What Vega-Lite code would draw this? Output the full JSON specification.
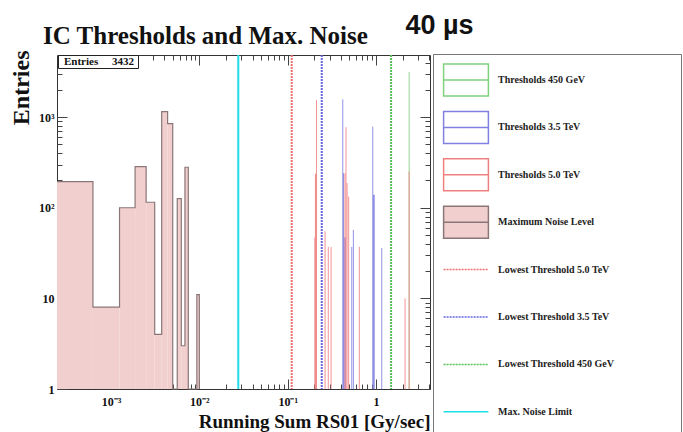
{
  "$schema": "https://vega.github.io/schema/vega-lite/v6.json",
  "width": 373,
  "height": 334,
  "autosize": {"type": "none"},
  "padding": {"left": 57, "top": 55, "right": 253, "bottom": 43},
  "background": "white",
  "title": {"text": "IC Thresholds and Max. Noise", "anchor": "start", "frame": "group", "dx": -14, "offset": -58, "baseline": "alphabetic", "font": "Liberation Serif", "fontSize": 25, "fontWeight": "bold", "color": "#111"},
  "config": {
    "view": {"stroke": "#333", "strokeWidth": 1},
    "axis": {"grid": false, "domain": false, "tickColor": "#444", "tickWidth": 1, "labelColor": "#111", "labelFont": "Liberation Serif", "labelFontWeight": "bold", "labelFontSize": 12, "titleColor": "#111"}
  },
  "datasets": {
    "hist": [
      {"series": "Maximum Noise Level", "lo": 0, "hi": 0.000625, "count": 194},
      {"series": "Maximum Noise Level", "lo": 0.000625, "hi": 0.00125, "count": 8},
      {"series": "Maximum Noise Level", "lo": 0.00125, "hi": 0.001875, "count": 100},
      {"series": "Maximum Noise Level", "lo": 0.001875, "hi": 0.0025, "count": 284},
      {"series": "Maximum Noise Level", "lo": 0.0025, "hi": 0.003125, "count": 115},
      {"series": "Maximum Noise Level", "lo": 0.003125, "hi": 0.00375, "count": 4},
      {"series": "Maximum Noise Level", "lo": 0.00375, "hi": 0.004375, "count": 1150},
      {"series": "Maximum Noise Level", "lo": 0.004375, "hi": 0.005, "count": 850},
      {"series": "Maximum Noise Level", "lo": 0.005, "hi": 0.005625, "count": 0},
      {"series": "Maximum Noise Level", "lo": 0.005625, "hi": 0.00625, "count": 126},
      {"series": "Maximum Noise Level", "lo": 0.00625, "hi": 0.006875, "count": 3},
      {"series": "Maximum Noise Level", "lo": 0.006875, "hi": 0.0075, "count": 280},
      {"series": "Maximum Noise Level", "lo": 0.0075, "hi": 0.008125, "count": 0},
      {"series": "Maximum Noise Level", "lo": 0.008125, "hi": 0.00875, "count": 0},
      {"series": "Maximum Noise Level", "lo": 0.00875, "hi": 0.009375, "count": 0},
      {"series": "Maximum Noise Level", "lo": 0.009375, "hi": 0.01, "count": 11},
      {"series": "Maximum Noise Level", "lo": 0.01, "hi": 0.010625, "count": 0}
    ],
    "thr": [
      {"series": "Thresholds 450 GeV", "x": 2.37, "count": 3150},
      {"series": "Thresholds 3.5 TeV", "x": 0.42, "count": 1575},
      {"series": "Thresholds 3.5 TeV", "x": 0.428, "count": 241},
      {"series": "Thresholds 3.5 TeV", "x": 0.437, "count": 47},
      {"series": "Thresholds 3.5 TeV", "x": 0.452, "count": 47},
      {"series": "Thresholds 3.5 TeV", "x": 0.531, "count": 37},
      {"series": "Thresholds 3.5 TeV", "x": 0.554, "count": 57},
      {"series": "Thresholds 3.5 TeV", "x": 0.918, "count": 785},
      {"series": "Thresholds 3.5 TeV", "x": 0.935, "count": 139},
      {"series": "Thresholds 3.5 TeV", "x": 0.955, "count": 139},
      {"series": "Thresholds 3.5 TeV", "x": 1.16, "count": 36},
      {"series": "Thresholds 5.0 TeV", "x": 0.203, "count": 47},
      {"series": "Thresholds 5.0 TeV", "x": 0.206, "count": 237},
      {"series": "Thresholds 5.0 TeV", "x": 0.209, "count": 237},
      {"series": "Thresholds 5.0 TeV", "x": 0.212, "count": 1550},
      {"series": "Thresholds 5.0 TeV", "x": 0.265, "count": 55},
      {"series": "Thresholds 5.0 TeV", "x": 0.288, "count": 37},
      {"series": "Thresholds 5.0 TeV", "x": 0.31, "count": 37},
      {"series": "Thresholds 5.0 TeV", "x": 0.445, "count": 241},
      {"series": "Thresholds 5.0 TeV", "x": 0.457, "count": 774},
      {"series": "Thresholds 5.0 TeV", "x": 0.47, "count": 187},
      {"series": "Thresholds 5.0 TeV", "x": 0.49, "count": 133},
      {"series": "Thresholds 5.0 TeV", "x": 0.647, "count": 37},
      {"series": "Thresholds 5.0 TeV", "x": 2.13, "count": 10},
      {"series": "Thresholds 5.0 TeV", "x": 2.37, "count": 251}
    ],
    "lines": [
      {"series": "Lowest Threshold 5.0 TeV", "x": 0.111},
      {"series": "Lowest Threshold 3.5 TeV", "x": 0.243},
      {"series": "Lowest Threshold 450 GeV", "x": 1.48},
      {"series": "Max. Noise Limit", "x": 0.0276}
    ]
  },
  "resolve": {"axis": {"x": "independent", "y": "independent"}},
  "layer": [
    {
      "data": {"name": "hist"},
      "mark": {"type": "rect", "invalid": null},
      "encoding": {
        "x": {"field": "lo", "type": "quantitative",
          "scale": {"type": "log", "domain": [0.000245, 4.08], "nice": false, "clamp": true},
          "axis": {"orient": "bottom", "values": [0.001, 0.01, 0.1, 1], "tickSize": -10, "labelPadding": 17, "labelFontSize": 12,
            "labelExpr": "datum.value < 0.005 ? '10⁻³' : datum.value < 0.05 ? '10⁻²' : datum.value < 0.5 ? '10⁻¹' : '1'",
            "title": "Running Sum RS01 [Gy/sec]", "titleX": 373, "titleY": 38, "titleAlign": "right", "titleBaseline": "alphabetic",
            "titleFont": "Liberation Serif", "titleFontSize": 19, "titleFontWeight": "bold"}},
        "x2": {"field": "hi"},
        "y": {"field": "count", "type": "quantitative",
          "scale": {"type": "log", "domain": [1, 4850], "nice": false, "clamp": true},
          "axis": {"orient": "left", "values": [1, 10, 100, 1000], "tickSize": -10, "labelPadding": 13,
            "labelExpr": "datum.value < 5 ? '1' : datum.value < 50 ? '10' : datum.value < 500 ? '10²' : '10³'",
            "title": "Entries", "titleX": -29, "titleY": -5, "titleAngle": 270, "titleAlign": "right", "titleBaseline": "alphabetic",
            "titleFont": "Liberation Serif", "titleFontSize": 24, "titleFontWeight": "bold"}},
        "y2": {"datum": 1},
        "fill": {"field": "series", "type": "nominal",
          "scale": {
            "domain": ["Thresholds 450 GeV", "Thresholds 3.5 TeV", "Thresholds 5.0 TeV", "Maximum Noise Level", "Lowest Threshold 5.0 TeV", "Lowest Threshold 3.5 TeV", "Lowest Threshold 450 GeV", "Max. Noise Limit"],
            "range": ["transparent", "transparent", "transparent", "#f2cfcf", "transparent", "transparent", "transparent", "transparent"]}}
      }
    },
    {
      "data": {"name": "hist"},
      "mark": {"type": "line", "interpolate": "step-after", "color": "#8a7676", "strokeWidth": 1.2, "invalid": null},
      "encoding": {
        "x": {"field": "lo", "type": "quantitative",
          "axis": {"orient": "bottom", "values": [0.0003, 0.0004, 0.0005, 0.0006, 0.0007, 0.0008, 0.0009, 0.002, 0.003, 0.004, 0.005, 0.006, 0.007, 0.008, 0.009, 0.02, 0.03, 0.04, 0.05, 0.06, 0.07, 0.08, 0.09, 0.2, 0.3, 0.4, 0.5, 0.6, 0.7, 0.8, 0.9, 2, 3, 4], "tickSize": -5, "labels": false, "title": null}},
        "y": {"field": "count", "type": "quantitative",
          "axis": {"orient": "left", "values": [2, 3, 4, 5, 6, 7, 8, 9, 20, 30, 40, 50, 60, 70, 80, 90, 200, 300, 400, 500, 600, 700, 800, 900, 2000, 3000, 4000], "tickSize": -5, "labels": false, "title": null}}
      }
    },
    {
      "data": {"name": "thr"},
      "mark": {"type": "rule", "strokeWidth": 1, "opacity": 0.85},
      "encoding": {
        "x": {"field": "x", "type": "quantitative",
          "axis": {"orient": "top", "values": [0.001, 0.01, 0.1, 1], "tickSize": -10, "labels": false, "title": null}},
        "y": {"field": "count", "type": "quantitative",
          "axis": {"orient": "right", "values": [1, 10, 100, 1000], "tickSize": -10, "labels": false,
            "title": "40 µs", "titleAngle": 0, "titleX": -25, "titleY": -22, "titleAlign": "left", "titleBaseline": "alphabetic",
            "titleFont": "Liberation Sans", "titleFontSize": 27, "titleFontWeight": "bold"}},
        "y2": {"datum": 1},
        "stroke": {"field": "series", "type": "nominal",
          "scale": {
            "domain": ["Thresholds 450 GeV", "Thresholds 3.5 TeV", "Thresholds 5.0 TeV", "Maximum Noise Level", "Lowest Threshold 5.0 TeV", "Lowest Threshold 3.5 TeV", "Lowest Threshold 450 GeV", "Max. Noise Limit"],
            "range": ["#7fd07f", "#8080e0", "#f08080", "#8a7676", "#ef6f6f", "#6565e0", "#55c055", "#1fdde6"]},
          "legend": {
            "orient": "none", "legendX": 376, "legendY": -1, "direction": "vertical", "title": null,
            "strokeColor": "#777", "fillColor": "white", "padding": 9,
            "symbolSize": 1024, "symbolOffset": 7, "labelOffset": 15, "rowPadding": 9.4,
            "symbolOpacity": 1, "symbolStrokeWidth": 1.5,
            "labelFont": "Liberation Serif", "labelFontWeight": "bold", "labelFontSize": 10, "labelColor": "#222", "labelLimit": 400,
            "labelExpr": "datum.label + '\u00a0\u00a0\u00a0\u00a0\u00a0\u00a0\u00a0\u00a0\u00a0\u00a0\u00a0\u00a0\u00a0\u00a0\u00a0\u00a0\u00a0\u00a0\u00a0\u00a0\u00a0\u00a0\u00a0\u200b'"}
        }
      }
    },
    {
      "data": {"name": "lines"},
      "mark": {"type": "rule", "strokeWidth": 2},
      "encoding": {
        "x": {"field": "x", "type": "quantitative",
          "axis": {"orient": "top", "values": [0.0003, 0.0004, 0.0005, 0.0006, 0.0007, 0.0008, 0.0009, 0.002, 0.003, 0.004, 0.005, 0.006, 0.007, 0.008, 0.009, 0.02, 0.03, 0.04, 0.05, 0.06, 0.07, 0.08, 0.09, 0.2, 0.3, 0.4, 0.5, 0.6, 0.7, 0.8, 0.9, 2, 3, 4], "tickSize": -5, "labels": false, "title": null}},
        "stroke": {"field": "series", "type": "nominal"},
        "strokeDash": {"field": "series", "type": "nominal",
          "scale": {
            "domain": ["Thresholds 450 GeV", "Thresholds 3.5 TeV", "Thresholds 5.0 TeV", "Maximum Noise Level", "Lowest Threshold 5.0 TeV", "Lowest Threshold 3.5 TeV", "Lowest Threshold 450 GeV", "Max. Noise Limit"],
            "range": [[1, 0], [1, 0], [1, 0], [1, 0], [2, 1], [2, 1], [2, 1], [1, 0]]}}
      }
    },
    {
      "data": {"name": "hist"},
      "mark": {"type": "point", "opacity": 0, "invalid": null},
      "encoding": {
        "x": {"field": "lo", "type": "quantitative", "axis": null},
        "y": {"field": "count", "type": "quantitative",
          "axis": {"orient": "right", "values": [2, 3, 4, 5, 6, 7, 8, 9, 20, 30, 40, 50, 60, 70, 80, 90, 200, 300, 400, 500, 600, 700, 800, 900, 2000, 3000, 4000], "tickSize": -5, "labels": false, "title": null}},
        "shape": {"field": "series", "type": "nominal",
          "scale": {
            "domain": ["Thresholds 450 GeV", "Thresholds 3.5 TeV", "Thresholds 5.0 TeV", "Maximum Noise Level", "Lowest Threshold 5.0 TeV", "Lowest Threshold 3.5 TeV", "Lowest Threshold 450 GeV", "Max. Noise Limit"],
            "range": ["M-1.4,-1H1.4V1H-1.4ZM-1.4,0H1.4", "M-1.4,-1H1.4V1H-1.4ZM-1.4,0H1.4", "M-1.4,-1H1.4V1H-1.4ZM-1.4,0H1.4", "M-1.4,-1H1.4V1H-1.4ZM-1.4,0H1.4", "M-1.4,-1M-1.4,1M-1.4,0H1.4", "M-1.4,-1M-1.4,1M-1.4,0H1.4", "M-1.4,-1M-1.4,1M-1.4,0H1.4", "M-1.4,-1M-1.4,1M-1.4,0H1.4"]}}
      }
    },
    {
      "data": {"name": "lines"},
      "mark": {"type": "point", "opacity": 0},
      "encoding": {
        "x": {"field": "x", "type": "quantitative", "axis": null},
        "color": {"datum": "3432",
          "legend": {"orient": "none", "legendX": 1, "legendY": 0, "title": null, "padding": 1,
            "strokeColor": "#222", "fillColor": "white", "symbolSize": 4, "symbolOpacity": 0, "labelOffset": -6,
            "labelFont": "Liberation Serif", "labelFontWeight": "bold", "labelFontSize": 11, "labelColor": "#111",
            "labelExpr": "'Entries\u00a0\u00a0\u00a0\u00a0\u00a0' + datum.label + '\u00a0\u200b'"}}
      }
    }
  ]
}
